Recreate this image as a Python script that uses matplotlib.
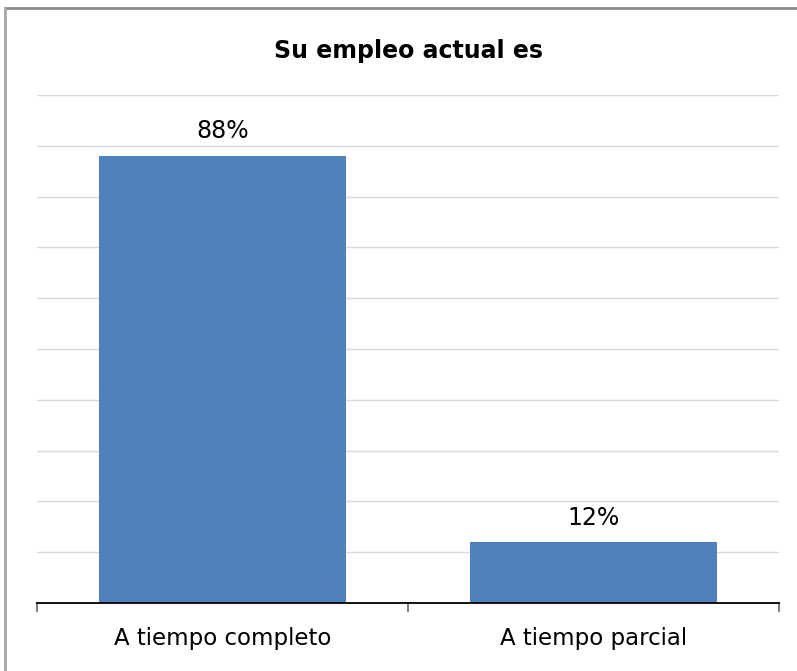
import matplotlib
matplotlib.use("Agg")
import matplotlib.pyplot as plt
from matplotlib.lines import Line2D

categories = ["A tiempo completo", "A tiempo parcial"]
values = [88, 12]
value_labels = ["88%", "12%"]
title = "Su empleo actual es"

W, H = 797, 671
fig = plt.figure(figsize=(W / 100, H / 100), dpi=100)
fig.patch.set_facecolor("white")

ax = fig.add_axes([37 / W, 1 - 603 / H, (779 - 37) / W, (603 - 95) / H])
x = range(len(categories))
bars = ax.bar(x, values, width=0.665, color="#4f81bd", zorder=3)
ax.set_xlim(-0.5, len(categories) - 0.5)
ax.set_ylim(0, 100)
ax.set_yticks(range(0, 101, 10))
ax.yaxis.grid(True, color="#d9d9d9", linewidth=1, zorder=0)
ax.tick_params(axis="y", left=False, labelleft=False)
for s in ["top", "right", "left"]:
    ax.spines[s].set_visible(False)
ax.spines["bottom"].set_color("black")
ax.spines["bottom"].set_linewidth(1.3)
ax.spines["bottom"].set_zorder(4)

ax.set_xticks(x)
ax.set_xticklabels(categories, fontsize=16.5)
ax.tick_params(axis="x", length=0, pad=17.5)
# boundary tick marks
for xb in [-0.5, 0.5, 1.5]:
    ax.plot([xb, xb], [0, -0.016], transform=ax.get_xaxis_transform(),
            color="#808080", linewidth=1.5, clip_on=False, zorder=4)

for b, lab in zip(bars, value_labels):
    ax.annotate(lab, (b.get_x() + b.get_width() / 2, b.get_height()),
                xytext=(0, 9), textcoords="offset points",
                ha="center", va="bottom", fontsize=17)

ax.set_title(title, fontsize=17, fontweight="bold", pad=26.5)

# figure border (top and left visible)
fig.add_artist(Line2D([5 / W, 1], [1 - 8 / H, 1 - 8 / H], transform=fig.transFigure,
                      color="#8c8c8c", linewidth=2))
fig.add_artist(Line2D([5 / W, 5 / W], [0, 1 - 8 / H], transform=fig.transFigure,
                      color="#a6a6a6", linewidth=2))

fig.savefig("out.png", dpi=100, facecolor="white")
